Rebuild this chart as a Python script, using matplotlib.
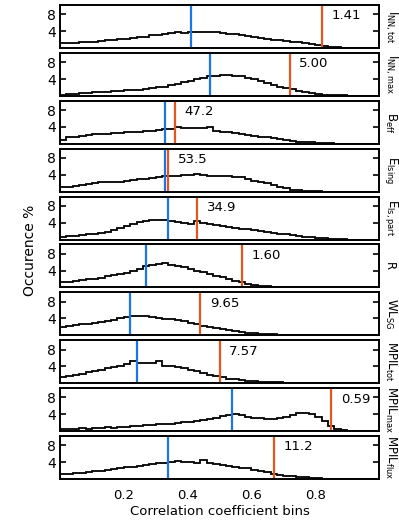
import numpy as np
import matplotlib
matplotlib.use("Agg")
import matplotlib.pyplot as plt

edges = np.linspace(0, 1, 51)

labels = [r'I$_{\rm NN,tot}$', r'I$_{\rm NN,max}$', r'B$_{\rm eff}$', r'E$_{\rm Ising}$',
          r'E$_{\rm Is,part}$', 'R', r'WL$_{\rm SG}$', r'MPIL$_{\rm tot}$',
          r'MPIL$_{\rm max}$', r'MPIL$_{\rm flux}$']
annot = ['1.41', '5.00', '47.2', '53.5', '34.9', '1.60', '9.65', '7.57', '0.59', '11.2']
blue_pos = [0.41, 0.47, 0.33, 0.33, 0.34, 0.27, 0.22, 0.24, 0.54, 0.34]
orange_pos = [0.82, 0.72, 0.36, 0.34, 0.43, 0.57, 0.44, 0.50, 0.85, 0.67]

h_inn_tot = [1.1,1.2,1.2,1.3,1.4, 1.5,1.6,1.8,1.9,2.1, 2.2,2.4,2.5,2.7,3.0,
             3.1,3.3,3.6,3.9,3.6, 3.9,3.8,3.9,3.9,3.8, 3.6,3.4,3.2,3.0,2.8,
             2.6,2.4,2.2,2.0,1.8, 1.7,1.5,1.3,1.1,0.9, 0.7,0.5,0.3,0.2,0.1,
             0,0,0,0,0]
h_inn_max = [0.3,0.4,0.5,0.6,0.7, 0.8,0.9,1.0,1.1,1.2, 1.3,1.4,1.5,1.7,1.8,
             2.0,2.2,2.5,2.9,3.3, 3.6,4.0,4.3,4.6,4.8, 5.0,4.9,4.6,4.8,4.2,
             4.0,3.5,3.0,2.6,2.2, 1.9,1.6,1.2,0.9,0.7, 0.5,0.3,0.2,0.1,0.1,
             0,0,0,0,0]
h_beff = [1.0,1.5,1.6,1.9,2.1, 2.2,2.3,2.4,2.5,2.6, 2.7,2.8,2.9,3.0,3.1,
          3.3,3.4,3.6,3.9,3.8, 3.7,3.7,3.8,3.9,3.0, 2.9,2.7,2.5,2.3,2.1,
          1.9,1.7,1.5,1.3,1.1, 0.9,0.7,0.5,0.4,0.3, 0.2,0.1,0.1,0,0,
          0,0,0,0,0]
h_eising = [1.0,1.2,1.4,1.6,1.8, 2.0,2.2,2.4,2.4,2.3, 2.6,2.8,3.0,3.1,3.2,
            3.5,3.7,3.8,3.7,3.9, 4.0,4.1,3.9,3.8,3.7, 3.6,3.6,3.5,3.4,3.0,
            2.6,2.3,2.0,1.6,1.2, 0.8,0.5,0.3,0.2,0.1, 0.1,0,0,0,0,
            0,0,0,0,0]
h_eispart = [0.7,0.8,0.9,1.0,1.2, 1.4,1.6,1.9,2.3,2.8, 3.3,3.7,4.2,4.5,4.7,
             4.7,4.6,4.4,4.2,3.9, 3.6,4.3,3.9,3.7,3.4, 3.2,3.0,2.8,2.6,2.4,
             2.2,2.0,1.8,1.6,1.4, 1.2,1.0,0.8,0.6,0.5, 0.4,0.3,0.2,0.1,0.1,
             0,0,0,0,0]
h_r = [1.2,1.4,1.6,1.7,1.9, 2.1,2.3,2.6,2.9,3.2, 3.5,3.8,4.4,5.0,5.4,
       5.5,5.9,5.4,5.1,4.8, 4.4,4.0,3.6,3.2,2.8, 2.4,2.0,1.6,1.2,0.9,
       0.6,0.4,0.3,0.2,0.1, 0.1,0,0,0,0, 0,0,0,0,0,
       0,0,0,0,0]
h_wlsg = [2.0,2.2,2.4,2.6,2.8, 3.0,3.2,3.4,3.6,4.0, 4.4,4.6,4.5,4.7,4.4,
          4.0,3.9,3.8,3.7,3.5, 3.0,2.6,2.3,2.0,1.7, 1.4,1.2,1.0,0.8,0.6,
          0.5,0.4,0.3,0.2,0.1, 0.1,0,0,0,0, 0,0,0,0,0,
          0,0,0,0,0]
h_mpil_tot = [1.4,1.7,2.0,2.3,2.6, 2.9,3.2,3.5,3.8,4.2, 4.6,5.2,4.9,4.8,4.8,
              5.3,4.2,4.0,3.8,3.6, 3.2,2.8,2.4,2.0,1.7, 1.4,1.1,0.9,0.8,0.6,
              0.5,0.4,0.3,0.2,0.2, 0.1,0,0,0,0, 0,0,0,0,0,
              0,0,0,0,0]
h_mpil_max = [0.6,0.6,0.5,0.7,0.6, 0.8,0.7,0.9,0.8,1.0, 1.0,1.1,1.3,1.4,1.5,
              1.6,1.6,1.8,2.0,2.1, 2.2,2.4,2.6,2.8,3.1, 3.5,3.8,4.1,3.9,3.4,
              3.2,3.0,2.9,2.8,3.0, 3.4,3.9,4.2,4.2,4.0, 3.3,2.5,1.2,0.5,0.2,
              0.1,0,0,0,0]
h_mpil_flux = [1.1,1.3,1.4,1.5,1.7, 1.8,2.0,2.2,2.4,2.6, 2.8,2.9,3.1,3.3,3.5,
               3.7,3.9,4.0,4.2,4.1, 4.0,3.8,4.4,3.7,3.5, 3.3,3.1,2.9,2.7,2.5,
               2.2,1.9,1.6,1.3,1.0, 0.8,0.7,0.5,0.4,0.3, 0.2,0.1,0.1,0,0,
               0,0,0,0,0]

hists = [h_inn_tot, h_inn_max, h_beff, h_eising, h_eispart, h_r, h_wlsg,
         h_mpil_tot, h_mpil_max, h_mpil_flux]

blue = '#1a75e6'
orange = '#e8551c'

fig, axes = plt.subplots(10, 1, figsize=(3.99, 5.32), dpi=100, sharex=True)
fig.subplots_adjust(left=60/399, right=379/399, top=1-5/532, bottom=1-479/532, hspace=0.115)

for i, ax in enumerate(axes):
    ax.stairs(hists[i], edges, baseline=None, color='k', lw=1.3)
    ax.axvline(blue_pos[i], color=blue, lw=1.6)
    ax.axvline(orange_pos[i], color=orange, lw=1.6)
    ax.text(orange_pos[i] + 0.03, 7.6, annot[i], fontsize=9.5, va='center', ha='left')
    ax.set_xlim(0, 1)
    ax.set_ylim(0, 10.2)
    ax.set_yticks([4, 8])
    ax.set_yticklabels(['4', '8'], fontsize=10)
    ax.tick_params(axis='y', direction='in', length=4, width=1.2, right=True, pad=3)
    ax.tick_params(axis='x', direction='in', length=0)
    for s in ax.spines.values():
        s.set_linewidth(1.4)
    ax.text(1.012, 0.5, labels[i], transform=ax.transAxes, rotation=270,
            ha='left', va='center', fontsize=8.5)

axes[-1].set_xticks([0.2, 0.4, 0.6, 0.8])
axes[-1].set_xticklabels(['0.2', '0.4', '0.6', '0.8'], fontsize=9.5)
axes[-1].tick_params(axis='x', pad=7)
axes[-1].set_xlabel('Correlation coefficient bins', fontsize=9.5, labelpad=2)
fig.text(30/399, 0.53, 'Occurence %', rotation=90, ha='center', va='center', fontsize=10)

fig.savefig('out.png', dpi=100)
